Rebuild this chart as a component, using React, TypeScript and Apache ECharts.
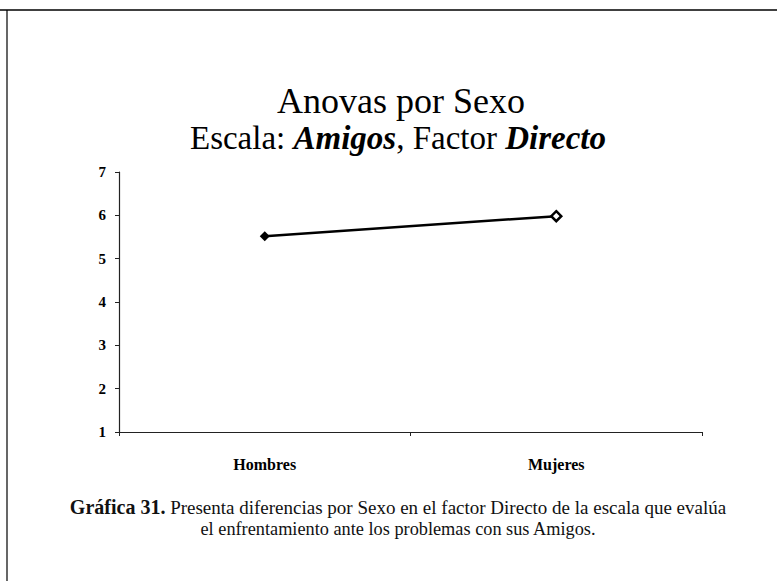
import React, { useEffect, useRef } from "react";
import * as echarts from "echarts";

const categories = ["Hombres", "Mujeres"];
const means = [5.52, 5.98];
const yTicks = [1, 2, 3, 4, 5, 6, 7];
const titleText = "Anovas por Sexo";
const subtitleText = "Escala: {i|Amigos}, Factor {i|Directo}";
const captionLine1 = "{b|Gráfica 31.} Presenta diferencias por Sexo en el factor Directo de la escala que evalúa";
const captionLine2 = "el enfrentamiento ante los problemas con sus Amigos.";

export default function App() {
  const ref = useRef<HTMLDivElement>(null);
  useEffect(() => {
    if (!ref.current) return;
    const chart = echarts.init(ref.current, null, { renderer: "svg" });
    const serif = "Liberation Serif";
    chart.setOption({
      animation: false,
      backgroundColor: "#fff",
      graphic: [
        { type: "line", shape: { x1: 0, y1: 10, x2: 777, y2: 10 }, style: { stroke: "#000", lineWidth: 1.5 } },
        { type: "line", shape: { x1: 7, y1: 10, x2: 7, y2: 581 }, style: { stroke: "#000", lineWidth: 1.2 } },
        {
          type: "text",
          x: 401,
          y: 101,
          style: {
            text: titleText,
            align: "center",
            verticalAlign: "middle",
            fontFamily: serif,
            fontSize: 36,
            fill: "#000",
          },
        },
        {
          type: "text",
          x: 398,
          y: 138,
          style: {
            text: subtitleText,
            align: "center",
            verticalAlign: "middle",
            fontFamily: serif,
            fontSize: 33,
            fill: "#000",
            rich: {
              i: { fontFamily: serif, fontStyle: "italic", fontWeight: "bold", fontSize: 33, fill: "#000" },
            },
          },
        },
        {
          type: "text",
          x: 398,
          y: 507,
          style: {
            text: captionLine1,
            align: "center",
            verticalAlign: "middle",
            fontFamily: serif,
            fontSize: 19,
            fill: "#111",
            rich: { b: { fontFamily: serif, fontSize: 20, fontWeight: "bold", fill: "#111" } },
          },
        },
        {
          type: "text",
          x: 398,
          y: 529,
          style: {
            text: captionLine2,
            align: "center",
            verticalAlign: "middle",
            fontFamily: serif,
            fontSize: 18.3,
            fill: "#111",
          },
        },
      ],
      grid: { left: 119, right: 75, top: 172, bottom: 149 },
      xAxis: {
        type: "category",
        data: categories,
        boundaryGap: true,
        axisLine: { show: true, lineStyle: { color: "#222", width: 1.2 } },
        axisTick: { show: true, length: 4, inside: false, lineStyle: { color: "#222" } },
        axisLabel: { margin: 24, fontFamily: serif, fontWeight: "bold", fontSize: 16, color: "#000" },
        splitLine: { show: false },
      },
      yAxis: {
        type: "value",
        min: yTicks[0],
        max: yTicks[yTicks.length - 1],
        interval: 1,
        axisLine: { show: true, lineStyle: { color: "#222", width: 1.2 } },
        axisTick: { show: true, length: 4, lineStyle: { color: "#222" } },
        axisLabel: { margin: 13, fontFamily: serif, fontWeight: "bold", fontSize: 15, color: "#000" },
        splitLine: { show: false },
      },
      series: [
        {
          type: "line",
          data: means.map((v, i) =>
            i === 0
              ? { value: v }
              : { value: v, itemStyle: { color: "#fff", borderColor: "#000", borderWidth: 2.5 } }
          ),
          symbol: "diamond",
          symbolSize: 10,
          itemStyle: { color: "#000" },
          lineStyle: { color: "#000", width: 2.5 },
        },
      ],
    });
    return () => chart.dispose();
  }, []);
  return <div ref={ref} style={{ width: 777, height: 581, position: "absolute", left: 0, top: 0 }} />;
}
